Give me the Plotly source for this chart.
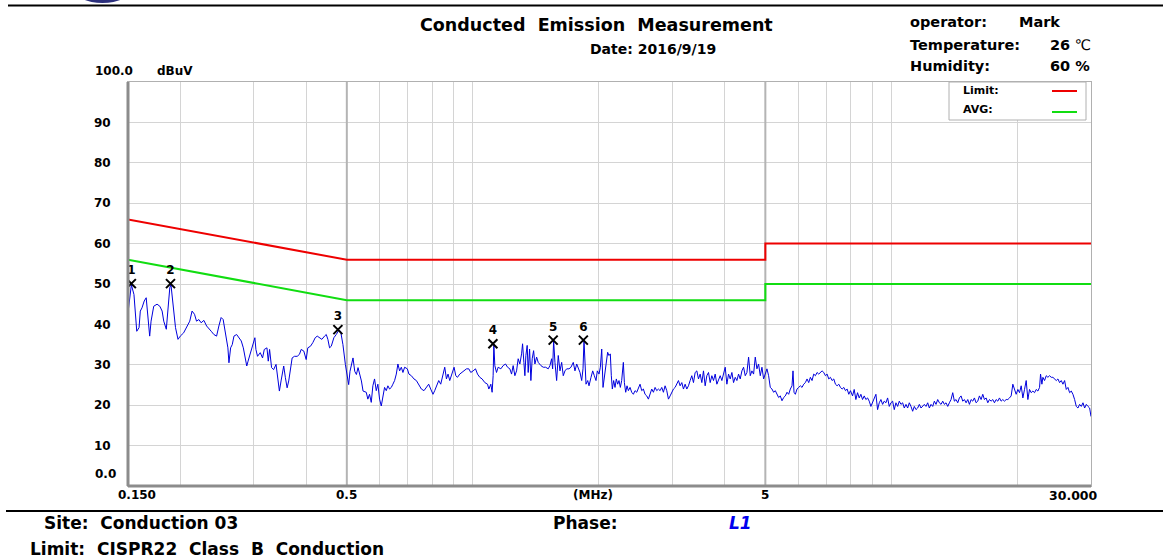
import numpy as np
import plotly.graph_objects as go

# ---------------- data ----------------
freq_mhz = [
    0.1500, 0.1528, 0.1550, 0.1574, 0.1594, 0.1605, 0.1620, 0.1640, 0.1658, 0.1672,
    0.1690, 0.1703, 0.1728, 0.1760, 0.1787, 0.1810, 0.1826, 0.1852, 0.1866, 0.1888,
    0.1900, 0.1922, 0.1948, 0.1975, 0.2000, 0.2037, 0.2076, 0.2107, 0.2134, 0.2163,
    0.2187, 0.2215, 0.2243, 0.2277, 0.2312, 0.2341, 0.2371, 0.2406, 0.2442, 0.2473,
    0.2504, 0.2532, 0.2566, 0.2599, 0.2614, 0.2638, 0.2662, 0.2687, 0.2727, 0.2762,
    0.2797, 0.2829, 0.2851, 0.2883, 0.2904, 0.2937, 0.2975, 0.3015, 0.3032, 0.3059,
    0.3105, 0.3145, 0.3175, 0.3222, 0.3245, 0.3269, 0.3305, 0.3342, 0.3387, 0.3417,
    0.3450, 0.3482, 0.3533, 0.3566, 0.3600, 0.3632, 0.3666, 0.3701, 0.3748, 0.3805,
    0.3853, 0.3889, 0.3946, 0.3998, 0.4034, 0.4094, 0.4147, 0.4202, 0.4249, 0.4303,
    0.4358, 0.4423, 0.4465, 0.4505, 0.4547, 0.4590, 0.4656, 0.4718, 0.4779, 0.4832,
    0.4894, 0.4960, 0.5015, 0.5051, 0.5088, 0.5127, 0.5173, 0.5222, 0.5271, 0.5318,
    0.5368, 0.5418, 0.5467,
    0.5564, 0.5613, 0.5665, 0.5719, 0.5770, 0.5824, 0.5879, 0.5931, 0.5987, 0.6043,
    0.6097, 0.6154, 0.6212, 0.6267, 0.6326, 0.6386, 0.6442, 0.6503, 0.6564, 0.6622,
    0.6685, 0.6748, 0.6808, 0.6872, 0.6975, 0.7037, 0.7131, 0.7234, 0.7330, 0.7424,
    0.7535, 0.7644, 0.7746, 0.7845, 0.7932, 0.8033, 0.8109, 0.8185, 0.8290, 0.8382,
    0.8489, 0.8569, 0.8650, 0.8726, 0.8808, 0.8921, 0.9020, 0.9105, 0.9190, 0.9307,
    0.9426, 0.9531, 0.9658, 0.9781, 0.9889, 1.0015, 1.0149, 1.0261, 1.0392, 1.0525,
    1.0683, 1.0843, 1.0921, 1.1042, 1.1121, 1.1183, 1.1226, 1.1288, 1.1394, 1.1495,
    1.1667, 1.1816, 1.1973, 1.2106, 1.2260, 1.2376, 1.2486, 1.2603, 1.2722, 1.2835,
    1.2955, 1.3077, 1.3149, 1.3244, 1.3317, 1.3391, 1.3487, 1.3562, 1.3667, 1.3765,
    1.3864, 1.3972, 1.4072, 1.4205, 1.4331, 1.4545, 1.4731, 1.4927, 1.5142, 1.5285,
    1.5429, 1.5514, 1.5600, 1.5712, 1.5860, 1.6001, 1.6152, 1.6304, 1.6448, 1.6603,
    1.6760, 1.6973, 1.7161, 1.7380, 1.7544, 1.7709, 1.7866, 1.8034, 1.8204, 1.8335,
    1.8437, 1.8538, 1.8641, 1.8816, 1.8951, 1.9161, 1.9341, 1.9513, 1.9696, 1.9838,
    2.0025, 2.0169, 2.0325, 2.0471, 2.0618,
    2.0998, 2.1153, 2.1309, 2.1427, 2.1546, 2.1706, 2.1865, 2.2026, 2.2190, 2.2353,
    2.2518, 2.2684, 2.2893, 2.3020, 2.3190, 2.3361, 2.3533, 2.3751, 2.3971, 2.4191,
    2.4415, 2.4640, 2.4867, 2.5097, 2.5329, 2.5562, 2.5798, 2.6037, 2.6276, 2.6518,
    2.6764, 2.7010, 2.7260, 2.7512, 2.7764, 2.8021, 2.8280, 2.8540, 2.8804, 2.9070,
    2.9338, 2.9609, 2.9883, 3.0157, 3.0436, 3.0717, 3.0999, 3.1286, 3.1576, 3.1866,
    3.2160, 3.2457, 3.2756, 3.3059, 3.3365, 3.3671, 3.3983, 3.4297, 3.4612, 3.4932,
    3.5255, 3.5579, 3.5908, 3.6240, 3.6574, 3.6912, 3.7254, 3.7596, 3.7944, 3.8295,
    3.8647, 3.9005, 3.9365, 3.9727, 4.0094, 4.0465, 4.0837, 4.1215, 4.1595, 4.1978,
    4.2366, 4.2758, 4.3151, 4.3550, 4.3953, 4.4357, 4.4767, 4.5181, 4.5596, 4.6018,
    4.6443, 4.6870, 4.7303, 4.7741, 4.8179, 4.8625, 4.9075, 4.9526, 4.9985, 5.0447,
    5.0910, 5.1381, 5.1857, 5.2333, 5.2817, 5.3306, 5.3796, 5.4294, 5.4796, 5.5300,
    5.5812, 5.6329, 5.6846, 5.7372, 5.7903, 5.8223, 5.8545, 5.8976, 5.9521, 6.0069,
    6.0625, 6.1187, 6.1748, 6.2320, 6.2897, 6.3476, 6.4063, 6.4657, 6.5252, 6.5855,
    6.6465, 6.7076, 6.7696, 6.8323, 6.8952, 6.9590, 7.0233, 7.0879, 7.1535, 7.2197,
    7.2861, 7.3534, 7.4214, 7.4897, 7.5590, 7.6289, 7.6991, 7.7702, 7.8421, 7.9144,
    7.9875,
    8.0784, 8.1526, 8.2280, 8.3040, 8.3804, 8.4580, 8.5362, 8.6147, 8.6944, 8.7748,
    8.8554, 8.9374, 9.0200, 9.1030, 9.1871, 9.2721, 9.3574, 9.4440, 9.5313, 9.6190,
    9.7079, 9.7977, 9.8879, 9.9793, 10.072, 10.164, 10.258, 10.353, 10.448, 10.545,
    10.642, 10.740, 10.840, 10.940, 11.040, 11.142, 11.245, 11.349, 11.454, 11.560,
    11.666, 11.774, 11.883, 11.992, 12.103, 12.215, 12.327, 12.441, 12.556, 12.672,
    12.789, 12.907, 13.026, 13.146, 13.268, 13.390, 13.513, 13.638, 13.764, 13.891,
    14.020, 14.148, 14.279, 14.411, 14.543, 14.678, 14.813, 14.950, 15.088, 15.227,
    15.367, 15.509, 15.652, 15.796, 15.942, 16.090, 16.238, 16.388, 16.539, 16.691,
    16.846, 17.002, 17.158, 17.317, 17.477, 17.638, 17.801, 17.966, 18.131, 18.299,
    18.468, 18.638, 18.810, 18.984, 19.158, 19.336, 19.515, 19.694, 19.876, 20.060,
    20.245, 20.432, 20.621, 20.810, 21.003, 21.197, 21.392, 21.590, 21.789, 21.989,
    22.193, 22.398, 22.604, 22.729, 22.898, 23.024, 23.236, 23.451, 23.667, 23.885,
    24.106, 24.329, 24.552, 24.779, 25.009, 25.239, 25.472, 25.708, 25.944, 26.184,
    26.426, 26.669, 26.915, 27.164, 27.414, 27.667, 27.923, 28.180, 28.440, 28.703,
    28.967, 29.234, 29.505, 29.776, 30.000,
]

level_dbuv = [
    42.9, 49.8, 47.4, 38.3, 39.2, 43.3, 44.1, 45.8, 46.6, 41.7,
    37.1, 40.8, 44.5, 45.0, 44.5, 43.3, 40.8, 38.8, 43.3, 49.1,
    49.8, 45.0, 39.2, 36.3, 37.1, 37.9, 39.6, 40.8, 43.3, 42.5,
    40.8, 41.2, 40.4, 41.0, 39.6, 38.8, 38.3, 37.5, 37.1, 39.6,
    41.7, 41.2, 37.9, 34.2, 30.5, 34.2, 35.0, 37.1, 37.5, 36.7,
    35.9, 34.2, 32.6, 29.7, 30.9, 32.6, 34.2, 36.7, 33.8, 32.1,
    33.0, 31.7, 33.8, 34.2, 30.9, 33.8, 29.3, 28.8, 30.1, 26.4,
    23.5, 26.0, 29.7, 26.8, 24.3, 26.0, 29.3, 31.7, 32.1, 32.1,
    32.6, 33.8, 33.4, 31.3, 34.2, 34.6, 35.5, 36.7, 37.1, 36.7,
    36.3, 37.1, 37.5, 36.3, 34.2, 34.6, 36.7, 37.5, 38.5, 38.3,
    35.0, 30.1, 27.6, 25.1, 28.4, 30.1, 31.7, 28.4, 27.6, 29.3,
    27.6, 26.0, 23.5,
    23.2, 21.5, 22.7, 20.7, 24.8, 26.5, 23.6, 25.2, 21.5, 19.8,
    22.3, 24.4, 23.6, 24.8, 24.0, 24.4, 25.2, 26.1, 27.7, 30.2,
    28.5, 29.4, 28.1, 29.4, 29.0, 27.7, 27.3, 26.5, 26.1, 25.2,
    24.0, 23.6, 24.4, 25.2, 24.0, 22.7, 23.6, 24.8, 26.1, 25.2,
    27.3, 29.4, 26.5, 27.7, 26.1, 27.7, 29.4, 27.3, 26.9, 27.7,
    28.1, 28.5, 29.0, 29.0, 28.1, 28.5, 29.0, 27.7, 26.9, 26.5,
    25.6, 25.2, 24.0, 25.2, 23.2, 27.3, 35.1, 29.8, 28.1, 29.4,
    29.0, 29.8, 30.2, 29.4, 29.0, 27.7, 29.8, 27.3, 28.5, 31.5,
    30.2, 32.7, 35.2, 30.6, 27.3, 32.3, 34.8, 28.1, 33.9, 26.1,
    31.5, 33.5, 30.2, 31.9, 30.6, 29.8, 29.4, 29.4, 29.0, 29.8,
    31.5, 29.0, 36.0, 30.6, 26.1, 32.3, 28.5, 30.6, 27.3, 28.5,
    29.0, 29.0, 29.4, 30.6, 28.5, 30.2, 29.0, 28.1, 26.1, 29.0,
    36.0, 29.0, 25.2, 26.1, 24.8, 26.9, 28.5, 27.3, 26.1, 28.5,
    27.7, 29.4, 33.9, 24.4, 27.3,
    33.1, 32.3, 32.7, 27.3, 24.0, 26.1, 24.4, 26.5, 25.2, 26.1,
    24.4, 26.1, 30.6, 25.6, 23.2, 24.8, 23.6, 24.4, 23.2, 22.7,
    23.6, 23.2, 24.0, 25.2, 23.6, 24.0, 22.7, 22.3, 21.5, 22.7,
    24.0, 23.2, 24.4, 23.6, 24.0, 23.6, 24.4, 23.2, 24.8, 23.6,
    21.5, 22.3, 23.2, 24.0, 24.4, 25.2, 26.1, 24.8, 25.6, 24.0,
    25.2, 24.0, 24.8, 26.1, 27.3, 25.6, 28.1, 28.5, 26.5, 27.7,
    25.6, 28.5, 24.8, 27.3, 28.1, 25.6, 27.3, 26.1, 27.7, 25.2,
    26.5, 27.3, 26.1, 27.7, 29.4, 25.2, 27.7, 26.5, 28.1, 25.6,
    26.9, 26.1, 27.7, 26.5, 28.5, 29.4, 27.3, 28.1, 31.9, 27.3,
    28.5, 27.7, 31.9, 29.0, 30.2, 27.3, 29.4, 26.5, 28.1, 29.0,
    27.3, 24.4, 24.0, 23.2, 23.6, 22.7, 21.9, 22.3, 21.1, 21.9,
    22.3, 23.2, 22.7, 24.0, 24.8, 28.5, 23.2, 22.7, 24.0, 24.4,
    24.8, 24.4, 25.2, 25.6, 26.5, 25.6, 26.9, 26.1, 27.7, 27.3,
    28.1, 27.7, 28.1, 28.5, 28.1, 27.3, 27.7, 26.5, 26.9, 26.1,
    26.5, 25.2, 24.8, 25.2, 24.4, 24.0, 24.4, 23.6, 24.0, 22.7,
    23.6,
    22.3, 23.9, 21.4, 23.1, 21.8, 22.7, 21.4, 22.3, 21.4, 21.8,
    21.0, 19.7, 20.6, 21.4, 22.7, 18.9, 20.6, 21.4, 20.2, 21.0,
    20.6, 21.8, 19.7, 20.6, 21.0, 18.9, 20.6, 19.7, 21.0, 20.2,
    20.6, 19.3, 20.2, 19.3, 20.6, 19.7, 18.5, 19.7, 18.9, 19.3,
    20.2, 19.3, 19.7, 20.2, 19.7, 20.6, 19.3, 20.2, 19.7, 21.0,
    20.2, 21.4, 20.6, 20.2, 21.0, 20.2, 20.6, 19.7, 20.6, 21.4,
    23.1, 21.0, 21.4, 20.6, 21.8, 22.3, 21.0, 21.4, 20.6, 21.4,
    20.2, 21.4, 21.0, 21.8, 20.6, 21.0, 22.3, 21.4, 22.7, 21.4,
    21.8, 20.6, 21.4, 21.0, 21.4, 20.6, 21.4, 21.0, 21.8, 21.0,
    21.4, 21.0, 21.4, 21.4, 21.8, 22.3, 25.2, 23.9, 22.7, 23.9,
    23.1, 24.8, 21.8, 23.9, 26.1, 21.4, 23.9, 23.1, 23.5, 23.1,
    23.9, 23.5, 24.4, 27.7, 25.2, 26.9, 26.1, 27.3, 26.9, 27.3,
    26.9, 26.9, 26.5, 26.1, 26.5, 25.6, 26.1, 25.2, 26.1, 23.9,
    24.4, 23.1, 23.5, 22.7, 21.4, 19.7, 19.3, 20.2, 19.7, 20.6,
    19.3, 20.2, 19.7, 19.3, 17.2,
]

limit_freq = [0.15, 0.5, 5.0, 5.0, 30.0]
limit_qp = [66.0, 56.0, 56.0, 60.0, 60.0]
limit_avg = [56.0, 46.0, 46.0, 50.0, 50.0]

peak_no = ["1", "2", "3", "4", "5", "6"]
peak_freq = [0.1528, 0.1895, 0.4760, 1.1170, 1.5560, 1.8370]
peak_level = [50.1, 50.1, 38.7, 35.2, 36.1, 36.1]

y_ticks = [10, 20, 30, 40, 50, 60, 70, 80, 90]
x_grid = [0.2, 0.3, 0.4, 0.5, 0.6, 0.7, 0.8, 0.9, 1, 2, 3, 4, 5, 6, 7, 8, 9, 10, 20]

# ---------------- figure ----------------
FONT = "DejaVu Sans"
W, H = 1163, 559
L, R, T, B = 128, 72, 82, 73
pw, ph = W - L - R, H - T - B


def px(x):
    return (x - L) / pw


def py(y):
    return (H - B - y) / ph


fig = go.Figure()

# darker grid lines at 0.5 and 5 MHz
for f in (0.5, 5.0):
    fig.add_trace(go.Scatter(x=[f, f], y=[0, 100], mode="lines",
                             line=dict(color="#b4b4b4", width=2),
                             hoverinfo="skip", showlegend=False))

fig.add_trace(go.Scatter(x=freq_mhz, y=level_dbuv, mode="lines",
                         line=dict(color="#0000dd", width=1),
                         name="L1", showlegend=False))
fig.add_trace(go.Scatter(x=limit_freq, y=limit_qp, mode="lines",
                         line=dict(color="#ee0000", width=2),
                         name="Limit", showlegend=False))
fig.add_trace(go.Scatter(x=limit_freq, y=limit_avg, mode="lines",
                         line=dict(color="#11dd11", width=2),
                         name="AVG", showlegend=False))
fig.add_trace(go.Scatter(x=peak_freq, y=peak_level, mode="markers+text",
                         text=peak_no, textposition="top center",
                         textfont=dict(family=FONT, size=12, color="black", weight="bold"),
                         marker=dict(symbol="x-thin", size=9,
                                     line=dict(color="black", width=2)),
                         showlegend=False))

fig.update_xaxes(type="log", range=[np.log10(0.15), np.log10(30)],
                 tickvals=x_grid, showticklabels=False, ticks="",
                 showgrid=True, gridcolor="#d4d4d4", gridwidth=1,
                 showline=True, mirror=True, linecolor="#b0b0b0", linewidth=1,
                 zeroline=False)
fig.update_yaxes(range=[0, 100], tickvals=y_ticks,
                 ticktext=[str(v) for v in y_ticks],
                 tickfont=dict(family=FONT, size=12, color="black", weight="bold"),
                 ticks="", ticklabelstandoff=14,
                 showgrid=True, gridcolor="#d4d4d4", gridwidth=1,
                 showline=True, mirror=True, linecolor="#b0b0b0", linewidth=1,
                 zeroline=False)

shapes = [
    # heavy left and bottom axis lines
    dict(type="line", xref="paper", yref="paper", x0=0, x1=0, y0=0, y1=1,
         line=dict(color="#8c8c8c", width=3)),
    dict(type="line", xref="paper", yref="paper", x0=0, x1=1, y0=0, y1=0,
         line=dict(color="#8c8c8c", width=3)),
    # header / footer rules
    dict(type="line", xref="paper", yref="paper", x0=px(8), x1=px(1163),
         y0=py(5.5), y1=py(5.5), line=dict(color="black", width=2)),
    dict(type="line", xref="paper", yref="paper", x0=px(6), x1=px(1163),
         y0=py(511), y1=py(511), line=dict(color="black", width=2)),
    # logo remnant
    dict(type="circle", xref="paper", yref="paper", x0=px(74), x1=px(131),
         y0=py(3), y1=py(-25), fillcolor="#2b2f7c", line=dict(width=0)),
    # legend box
    dict(type="rect", xref="paper", yref="paper", x0=px(949), x1=px(1086),
         y0=py(120), y1=1, fillcolor="white",
         line=dict(color="#b0b0b0", width=1)),
    dict(type="line", xref="paper", yref="paper", x0=px(1052), x1=px(1077),
         y0=py(91), y1=py(91), line=dict(color="#ee0000", width=2)),
    dict(type="line", xref="paper", yref="paper", x0=px(1052), x1=px(1077),
         y0=py(112), y1=py(112), line=dict(color="#11dd11", width=2)),
]
fig.update_layout(shapes=shapes)


def ann(text, x, y, size=13, xanchor="left", color="black", xref="paper"):
    fig.add_annotation(text=text, x=x, y=y, xref=xref, yref="paper",
                       xanchor=xanchor, yanchor="middle", showarrow=False,
                       font=dict(family=FONT, size=size, color=color))


# header
ann("<b>Conducted  Emission  Measurement</b>", px(596), py(25), size=17.5, xanchor="center")
ann("<b>Date: 2016/9/19</b>", px(653), py(49), size=14, xanchor="center")
ann("<b>operator:</b>", px(908), py(22), size=14.5)
ann("<b>Mark</b>", px(1017), py(22), size=14.5)
ann("<b>Temperature:</b>", px(908), py(45), size=14.5)
ann("<b>26</b> ℃", px(1048), py(45), size=14.5)
ann("<b>Humidity:</b>", px(908), py(66), size=14.5)
ann("<b>60 %</b>", px(1048), py(66), size=14.5)

# axis captions
ann("<b>100.0</b>", px(93), py(71), size=12)
ann("<b>dBuV</b>", px(155), py(71), size=12)
ann("<b>0.0</b>", px(93), py(474), size=12)
ann("<b>0.150</b>", px(137), py(495), size=12, xanchor="center")
ann("<b>0.5</b>", np.log10(0.5), py(495), size=12, xanchor="center", xref="x")
ann("<b>(MHz)</b>", px(593), py(495), size=12, xanchor="center")
ann("<b>5</b>", np.log10(5), py(495), size=12, xanchor="center", xref="x")
ann("<b>30.000</b>", px(1100), py(495), size=12.5, xanchor="right")

# legend texts
ann("<b>Limit:</b>", px(961), py(90), size=11)
ann("<b>AVG:</b>", px(961), py(110), size=11)

# footer
ann("<b>Site:  Conduction 03</b>", px(42), py(523), size=17)
ann("<b>Phase:</b>", px(551), py(523), size=17)
ann("<b><i>L1</i></b>", px(727), py(523), size=17, color="#0000ee")
ann("<b>Limit:  CISPR22  Class  B  Conduction</b>", px(28), py(549), size=17)

fig.update_layout(width=W, height=H, margin=dict(l=L, r=R, t=T, b=B),
                  paper_bgcolor="white", plot_bgcolor="white",
                  showlegend=False)

fig.write_html("out.html", config={"displayModeBar": False},
               post_script="document.body.style.margin='0px';document.body.style.overflow='hidden';")
